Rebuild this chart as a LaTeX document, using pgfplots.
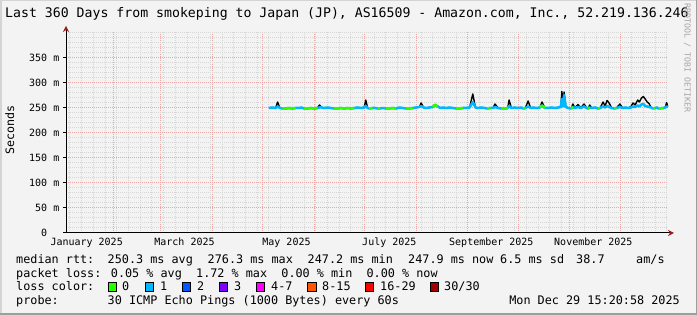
\documentclass[border=0pt]{standalone}
\usepackage{pgfplots}
\pgfplotsset{compat=1.18}
\usepackage{pgfplotstable}
\usepackage{fontspec}
\setmainfont{DejaVu Sans Mono}
\usetikzlibrary{arrows.meta}

\definecolor{bgc}{HTML}{F3F3F3}
\definecolor{shadea}{HTML}{D4D4D4}
\definecolor{shadeb}{HTML}{9E9E9E}
\definecolor{gridc}{HTML}{D6D6D6}
\definecolor{mgridc}{HTML}{EBA5A5}
\definecolor{arrowc}{HTML}{A01818}
\definecolor{lz}{HTML}{26FF00}
\definecolor{lo}{HTML}{00B8FF}
\definecolor{lt}{HTML}{0059FF}
\definecolor{lth}{HTML}{7E00FF}
\definecolor{lf}{HTML}{FF00FF}
\definecolor{le}{HTML}{FF5500}
\definecolor{ls}{HTML}{FF0000}
\definecolor{lx}{HTML}{A10000}

\pgfplotstableread{
d m t g
124 250 250 nan
126 251 251 nan
128 250 250 nan
129.2 253 262 nan
130.5 250 250 nan
132 249 249 249
134 249 249 249
136 250 250 250
138 249 249 249
140 250 250 250
142 250 250 nan
143.5 251 251 nan
145 249 249 249
147 249 249 249
149 250 250 250
151 249 249 249
153 250 250 250
154.2 251 256 nan
155.5 251 251 nan
157 250 250 nan
159 251 251 nan
161 250 250 nan
163 249 249 249
165 249 249 249
167 250 250 250
169 249 249 249
171 250 250 250
173 249 249 249
175 250 250 250
177 251 251 nan
179 250 250 nan
181 251 251 nan
181.9 254 266 nan
183 250 250 nan
184 249 249 249
186 250 250 250
187.5 250 250 nan
189 249 249 249
190.5 249 249 249
192 250 250 nan
194 249 249 249
196 249 249 249
198 250 250 250
200 249 249 249
202 251 251 nan
204 250 250 nan
206 249 249 249
208 249 249 249
210 250 250 250
212 251 251 nan
214 252 252 nan
215 254 260 nan
216.5 251 251 nan
218 250 250 nan
220 251 251 nan
222 252 252 252
223.3 256 257 256
225 253 253 253
226.5 250 250 nan
228 251 251 nan
230 250 250 nan
232 251 251 nan
234 250 250 nan
236 249 249 249
238 249 249 249
240 250 250 250
242 250 250 nan
244 251 251 nan
245.9 262 278 nan
247.5 251 251 nan
249 250 250 nan
251 251 251 nan
253 250 250 nan
254.5 249 249 249
256.5 250 250 250
258 250 250 nan
259.2 252 258 nan
261 250 250 nan
263 249 249 249
265 249 249 249
266.8 250 250 250
267.6 254 266 nan
269 250 250 nan
271 251 251 nan
273 250 250 nan
275 251 251 nan
276 249 249 249
277.3 250 250 250
279 253 264 nan
280.5 250 250 nan
282 251 251 nan
284 250 250 nan
286 251 251 251
287.3 255 262 255
289 250 250 250
291 250 250 nan
293 251 251 nan
295 250 250 nan
297 251 251 nan
298.5 252 252 nan
299.2 268 283 nan
299.9 253 256 nan
300.5 276 282 nan
301.5 252 252 nan
303 250 250 nan
304.6 249 249 249
305.8 252 258 252
307 250 250 nan
308.8 252 257 nan
310.5 250 250 nan
312.4 253 258 nan
314 250 250 nan
314.8 249 249 249
315.8 251 256 251
317 250 250 nan
319 251 251 nan
320.8 249 249 249
322 250 250 250
323.8 253 262 nan
325 251 254 nan
326.2 254 265 nan
327.4 252 260 nan
329 250 250 nan
330.6 249 249 249
331.8 250 250 250
333.9 252 258 nan
335.5 250 250 nan
337 251 251 nan
339 250 250 nan
340.5 251 253 nan
341.7 253 260 nan
343 252 256 nan
344.5 255 266 nan
345.5 253 262 nan
346.8 257 270 nan
347.9 258 273 nan
349 254 268 nan
350.2 253 262 nan
351.3 252 259 nan
352.5 251 251 nan
353.9 249 249 249
355 250 250 250
356.2 251 251 nan
357 249 249 249
359.9 250 250 250
361 251 251 nan
361.8 253 261 nan
362.6 252 252 nan
}\datatab

\begin{document}
\begin{tikzpicture}[x=1pt,y=1pt]
\useasboundingbox (0,0) rectangle (697,315);
\fill[bgc] (0,0) rectangle (697,315);
\fill[shadea] (0,0) rectangle (1.5,315);
\fill[shadea] (0,313.5) rectangle (697,315);
\fill[shadeb] (0,0) rectangle (697,1.5);
\fill[shadeb] (695.5,0) rectangle (697,315);

\node[anchor=base west, inner sep=0pt, font=\fontsize{13.2}{15}\selectfont] at (5,297)
  {Last 360 Days from smokeping to Japan (JP), AS16509 - Amazon.com, Inc., 52.219.136.246};
\node[rotate=90, anchor=base, inner sep=0pt, font=\fontsize{11.6}{13}\selectfont] at (14,185) {Seconds};
\node[rotate=-90, anchor=base, inner sep=0pt, font=\fontsize{8.3}{10}\selectfont, text=black!35] at (684.5,257) {RRDTOOL / TOBI OETIKER};

\begin{axis}[
  at={(66pt,82pt)}, anchor=south west, scale only axis,
  width=602pt, height=201pt,
  xmin=2.64, xmax=362.64, ymin=0, ymax=402,
  axis lines=left,
  axis line style={black, line width=1pt},
  x axis line style={-{Stealth[length=6pt,width=6pt,color=arrowc]}, shorten >=-6pt},
  y axis line style={-{Stealth[length=6pt,width=6pt,color=arrowc]}, shorten >=-6pt},
  xtick={31,59,90,120,151,181,212,243,273,304,334}, xticklabels={},
  minor xtick={5,12,...,362},
  ytick={0,50,...,350},
  yticklabels={0\hphantom{\ m},50 m,100 m,150 m,200 m,250 m,300 m,350 m},
  minor ytick={10,20,...,400},
  grid=both,
  major grid style={mgridc, line width=1pt, dash pattern=on 1pt off 1pt},
  minor grid style={gridc, line width=1pt, dash pattern=on 1pt off 1pt},
  tick align=outside,
  major tick length=3pt, minor tick length=0pt,
  xtick style={draw=none},
  ytick style={black, line width=1pt},
  tick label style={font=\fontsize{10}{12}\selectfont},
  yticklabel style={anchor=east, inner sep=0pt, xshift=-3.5pt},
  xticklabel style={anchor=base, inner sep=0pt, yshift=-12.5pt},
  extra x ticks={15,73.5,134.5,196,257,318},
  extra x tick labels={January 2025,March 2025,May 2025,July 2025,September 2025,November 2025},
  extra x tick style={grid=none, major tick length=0pt},
  line join=round,
]
\addplot[black, line width=1.4pt, line join=round] table[x=d,y=t] \datatab;
\addplot[lo, line width=2.5pt, line join=round] table[x=d,y=m] \datatab;
\addplot[lz, line width=2.5pt, line join=round, unbounded coords=jump] table[x=d,y=g] \datatab;
\end{axis}

\begin{scope}[font=\fontsize{11.8}{14}\selectfont]
\node[anchor=base west, inner sep=0pt] at (16,51.5) {median rtt:};
\node[anchor=base west, inner sep=0pt] at (107.5,51.5) {250.3 ms avg};
\node[anchor=base west, inner sep=0pt] at (207.5,51.5) {276.3 ms max};
\node[anchor=base west, inner sep=0pt] at (307.5,51.5) {247.2 ms min};
\node[anchor=base west, inner sep=0pt] at (408,51.5) {247.9 ms now};
\node[anchor=base west, inner sep=0pt] at (500,51.5) {6.5 ms sd};
\node[anchor=base west, inner sep=0pt] at (576,51.5) {38.7};
\node[anchor=base west, inner sep=0pt] at (636,51.5) {am/s};

\node[anchor=base west, inner sep=0pt] at (16,37.5) {packet loss: 0.05 \% avg\ \ 1.72 \% max\ \ 0.00 \% min\ \ 0.00 \% now};

\node[anchor=base west, inner sep=0pt] at (16,24) {loss color:};
\foreach \bx/\cc in {108/lz, 145/lo, 182/lt, 219/lth, 256/lf, 307.5/le, 365/ls, 430/lx}{
  \filldraw[fill=\cc, draw=black, line width=0.8pt] (\bx,24) rectangle ++(8.5,8.5);
}
\node[anchor=base west, inner sep=0pt] at (122,24) {0};
\node[anchor=base west, inner sep=0pt] at (160,24) {1};
\node[anchor=base west, inner sep=0pt] at (197,24) {2};
\node[anchor=base west, inner sep=0pt] at (234,24) {3};
\node[anchor=base west, inner sep=0pt] at (271,24) {4-7};
\node[anchor=base west, inner sep=0pt] at (322,24) {8-15};
\node[anchor=base west, inner sep=0pt] at (380,24) {16-29};
\node[anchor=base west, inner sep=0pt] at (444,24) {30/30};

\node[anchor=base west, inner sep=0pt] at (16,10) {probe:};
\node[anchor=base west, inner sep=0pt] at (107.5,10) {30 ICMP Echo Pings (1000 Bytes) every 60s};
\node[anchor=base east, inner sep=0pt] at (680,10) {Mon Dec 29 15:20:58 2025};
\end{scope}
\end{tikzpicture}
\end{document}
